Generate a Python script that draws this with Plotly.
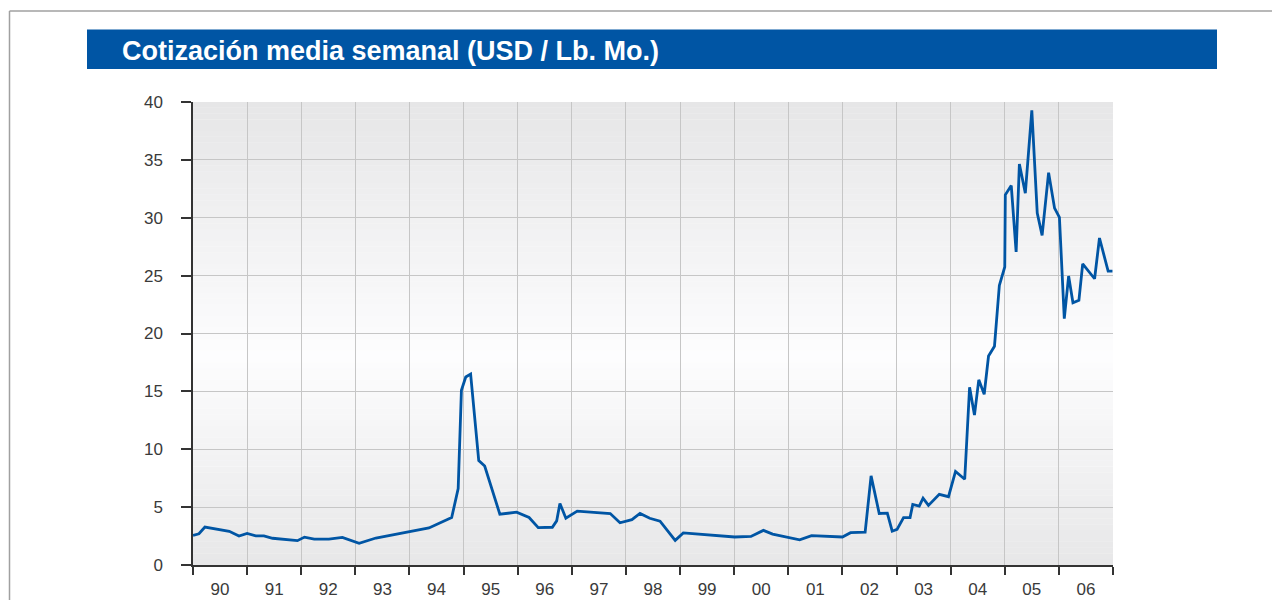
import plotly.graph_objects as go

# ---- data ----
years = [1990.00, 1990.11, 1990.22, 1990.67, 1990.85, 1991.00, 1991.16, 1991.31, 1991.47, 1991.93,
         1992.06, 1992.24, 1992.51, 1992.76, 1993.07, 1993.38, 1994.36, 1994.78, 1994.90, 1994.96,
         1995.04, 1995.13, 1995.28, 1995.39, 1995.67, 1995.98, 1996.21, 1996.38, 1996.64, 1996.72,
         1996.78, 1996.89, 1997.10, 1997.71, 1997.89, 1998.11, 1998.26, 1998.44, 1998.63, 1998.91,
         1999.06, 2000.01, 2000.31, 2000.54, 2000.71, 2001.21, 2001.43, 2002.00, 2002.15, 2002.42,
         2002.53, 2002.68, 2002.83, 2002.92, 2003.01, 2003.13, 2003.25, 2003.30, 2003.42, 2003.49,
         2003.59, 2003.79, 2003.96, 2004.09, 2004.26, 2004.35, 2004.44, 2004.52, 2004.62, 2004.70,
         2004.81, 2004.90, 2005.00, 2005.01, 2005.12, 2005.21, 2005.27, 2005.38, 2005.50, 2005.60,
         2005.69, 2005.81, 2005.92, 2006.01, 2006.10, 2006.18, 2006.26, 2006.37, 2006.44, 2006.66,
         2006.75, 2006.91, 2006.99]
prices = [2.56, 2.70, 3.28, 2.91, 2.50, 2.72, 2.52, 2.52, 2.31, 2.10,
          2.41, 2.24, 2.24, 2.38, 1.87, 2.33, 3.20, 4.10, 6.60, 15.10,
          16.24, 16.50, 9.02, 8.55, 4.39, 4.56, 4.10, 3.23, 3.26, 3.81,
          5.32, 4.04, 4.65, 4.45, 3.65, 3.92, 4.45, 4.04, 3.78, 2.13,
          2.77, 2.42, 2.47, 2.99, 2.67, 2.18, 2.53, 2.42, 2.79, 2.83,
          7.70, 4.45, 4.48, 2.92, 3.08, 4.10, 4.10, 5.23, 5.09, 5.78,
          5.15, 6.10, 5.90, 8.08, 7.41, 15.35, 12.95, 16.0, 14.75, 18.05,
          18.9, 24.15, 25.75, 31.98, 32.78, 27.05, 34.64, 32.12, 39.28, 30.40,
          28.48, 33.90, 30.83, 30.03, 21.29, 24.96, 22.66, 22.87, 26.02, 24.73,
          28.25, 25.39, 25.39]

year_bounds = list(range(1990, 2008))
year_labels = ["90", "91", "92", "93", "94", "95", "96", "97", "98", "99",
               "00", "01", "02", "03", "04", "05", "06"]
y_ticks = [0, 5, 10, 15, 20, 25, 30, 35, 40]
title_text = "Cotización media semanal (USD / Lb. Mo.)"

# ---- layout geometry (page pixels; the page body adds an 8px offset) ----
OFF = 8
W, H = 1280 - OFF, 600 - OFF
L, R, T, B = 193 - OFF, 1113 - OFF, 102 - OFF, 565 - OFF
PW, PH = R - L, B - T


def px2x(px):
    return (px - OFF - L) / PW


def py2y(py):
    return (B - (py - OFF)) / PH


BLUE = "#0055a4"
TICK_FONT = dict(family="Liberation Sans, Arial, Helvetica, sans-serif", size=17, color="#3a3a3a")

fig = go.Figure()
fig.add_trace(go.Scatter(
    x=years, y=prices, mode="lines",
    line=dict(color=BLUE, width=2.8),
    hoverinfo="x+y", showlegend=False,
))

shapes = []


def grad_color(v):
    # grey at top and bottom, white around 18
    if v >= 18:
        t = (v - 18) / 22.0
        c = 253 - t * (253 - 230)
    else:
        t = (18 - v) / 18.0
        c = 253 - t * (253 - 231)
    c = int(round(c))
    return f"rgb({c},{c},{min(255, c + 1)})"


n = 80
for i in range(n):
    y0 = 40 * i / n
    y1 = 40 * (i + 1) / n
    shapes.append(dict(type="rect", xref="x", yref="y", x0=1990, x1=2007, y0=y0, y1=y1 + 0.02,
                       fillcolor=grad_color((y0 + y1) / 2), line=dict(width=0), layer="below"))

# outer frame (left and top edges visible)
shapes.append(dict(type="line", xref="paper", yref="paper",
                   x0=px2x(9.5), x1=px2x(1300), y0=py2y(11), y1=py2y(11),
                   line=dict(color="#a0a0a0", width=1.5)))
shapes.append(dict(type="line", xref="paper", yref="paper",
                   x0=px2x(9.5), x1=px2x(9.5), y0=py2y(11), y1=py2y(620),
                   line=dict(color="#a0a0a0", width=1.5)))
# title bar
shapes.append(dict(type="rect", xref="paper", yref="paper",
                   x0=px2x(87), x1=px2x(1217), y0=py2y(69), y1=py2y(29.5),
                   fillcolor=BLUE, line=dict(width=0)))

annotations = [dict(
    text=f"<b>{title_text}</b>", xref="paper", yref="paper",
    x=px2x(120), y=py2y(51), xanchor="left", yanchor="middle", showarrow=False,
    font=dict(family="Liberation Sans, Arial, Helvetica, sans-serif", size=27, color="white"),
)]

fig.update_layout(
    width=W, height=H,
    margin=dict(l=L, r=W - R, t=T, b=H - B, pad=0, autoexpand=False),
    paper_bgcolor="white",
    plot_bgcolor="rgba(0,0,0,0)",
    shapes=shapes,
    annotations=annotations,
    xaxis=dict(
        range=[1990, 2007], fixedrange=True, automargin=False,
        tickmode="array",
        tickvals=[y + 0.5 for y in year_bounds[:-1]],
        ticktext=year_labels,
        ticks="", showgrid=False, zeroline=False,
        ticklabelstandoff=8,
        tickfont=TICK_FONT,
        showline=True, linecolor="#333333", linewidth=1.5,
        minor=dict(tickmode="array", tickvals=year_bounds, ticks="outside", ticklen=8,
                   tickwidth=1.5, tickcolor="#333333",
                   showgrid=True, gridcolor="#c6c6c6", gridwidth=1.3),
    ),
    yaxis=dict(
        range=[0, 40], fixedrange=True, automargin=False,
        tickmode="array", tickvals=y_ticks,
        ticks="outside", ticklen=10, tickwidth=1.5, tickcolor="#333333",
        ticklabelstandoff=15,
        showgrid=True, gridcolor="#c6c6c6", gridwidth=1.3,
        zeroline=False,
        tickfont=TICK_FONT,
        showline=True, linecolor="#333333", linewidth=1.5,
    ),
)

fig.write_html("out.html")
